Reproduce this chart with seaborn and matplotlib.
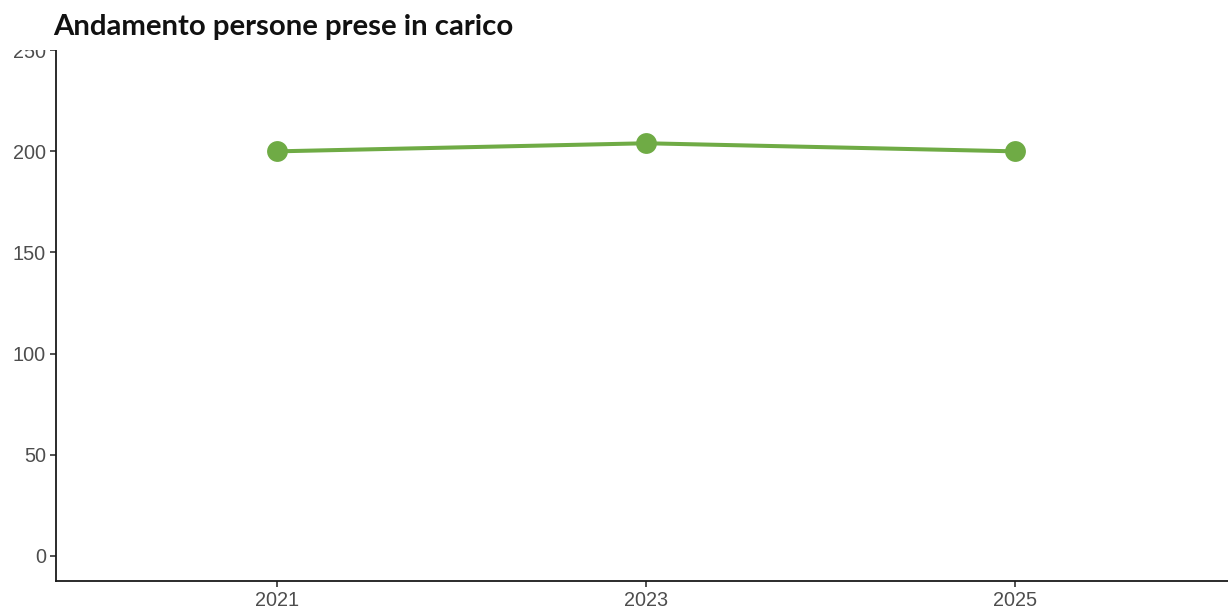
import numpy as np
import pandas as pd
import matplotlib
matplotlib.use('Agg')
import matplotlib.pyplot as plt
import seaborn as sns

# data
anni = ['2021', '2023', '2025']
persone = [200, 204, 200]
y_ticks = [0, 50, 100, 150, 200, 250]

df = pd.DataFrame({'anno': anni, 'persone': persone})

sns.set_theme(style='ticks')
plt.rcParams['font.family'] = ['Liberation Sans', 'DejaVu Sans']

fig = plt.figure(figsize=(12.28, 6.08), dpi=100)
ax = fig.add_axes([0.0453, 0.0444, 0.9617, 0.9145])

sns.lineplot(data=df, x='anno', y='persone', ax=ax, sort=False,
             color='#6FAB45', linewidth=2.9, marker='o', markersize=15,
             markeredgewidth=0)

ax.set_xlim(-0.6, 2.6)
ax.set_ylim(-12.5, 262.5)
ax.set_yticks(y_ticks)
ax.set_xlabel('')
ax.set_ylabel('')
sns.despine(ax=ax)
for s in ['left', 'bottom']:
    ax.spines[s].set_linewidth(1.3)
    ax.spines[s].set_color('#1a1a1a')
ax.tick_params(axis='both', length=4, width=1.2, color='#333333',
               labelsize=14.3, labelcolor='#4D4D4D', pad=3)
ax.grid(False)

# white band at the top, title sits on it (cuts the 250 label like the original)
band = plt.Rectangle((0, 1 - 50 / 608), 1, 50 / 608, transform=fig.transFigure,
                     facecolor='white', edgecolor='none', zorder=5)
fig.patches.append(band)
fig.text(53.3 / 1228, 1 - 35 / 608, 'Andamento persone prese in carico',
         fontsize=21.2, fontweight='bold', family=['Lato', 'DejaVu Sans'],
         color='#111111', va='baseline', ha='left', zorder=6)

fig.savefig('out.png', dpi=100)
